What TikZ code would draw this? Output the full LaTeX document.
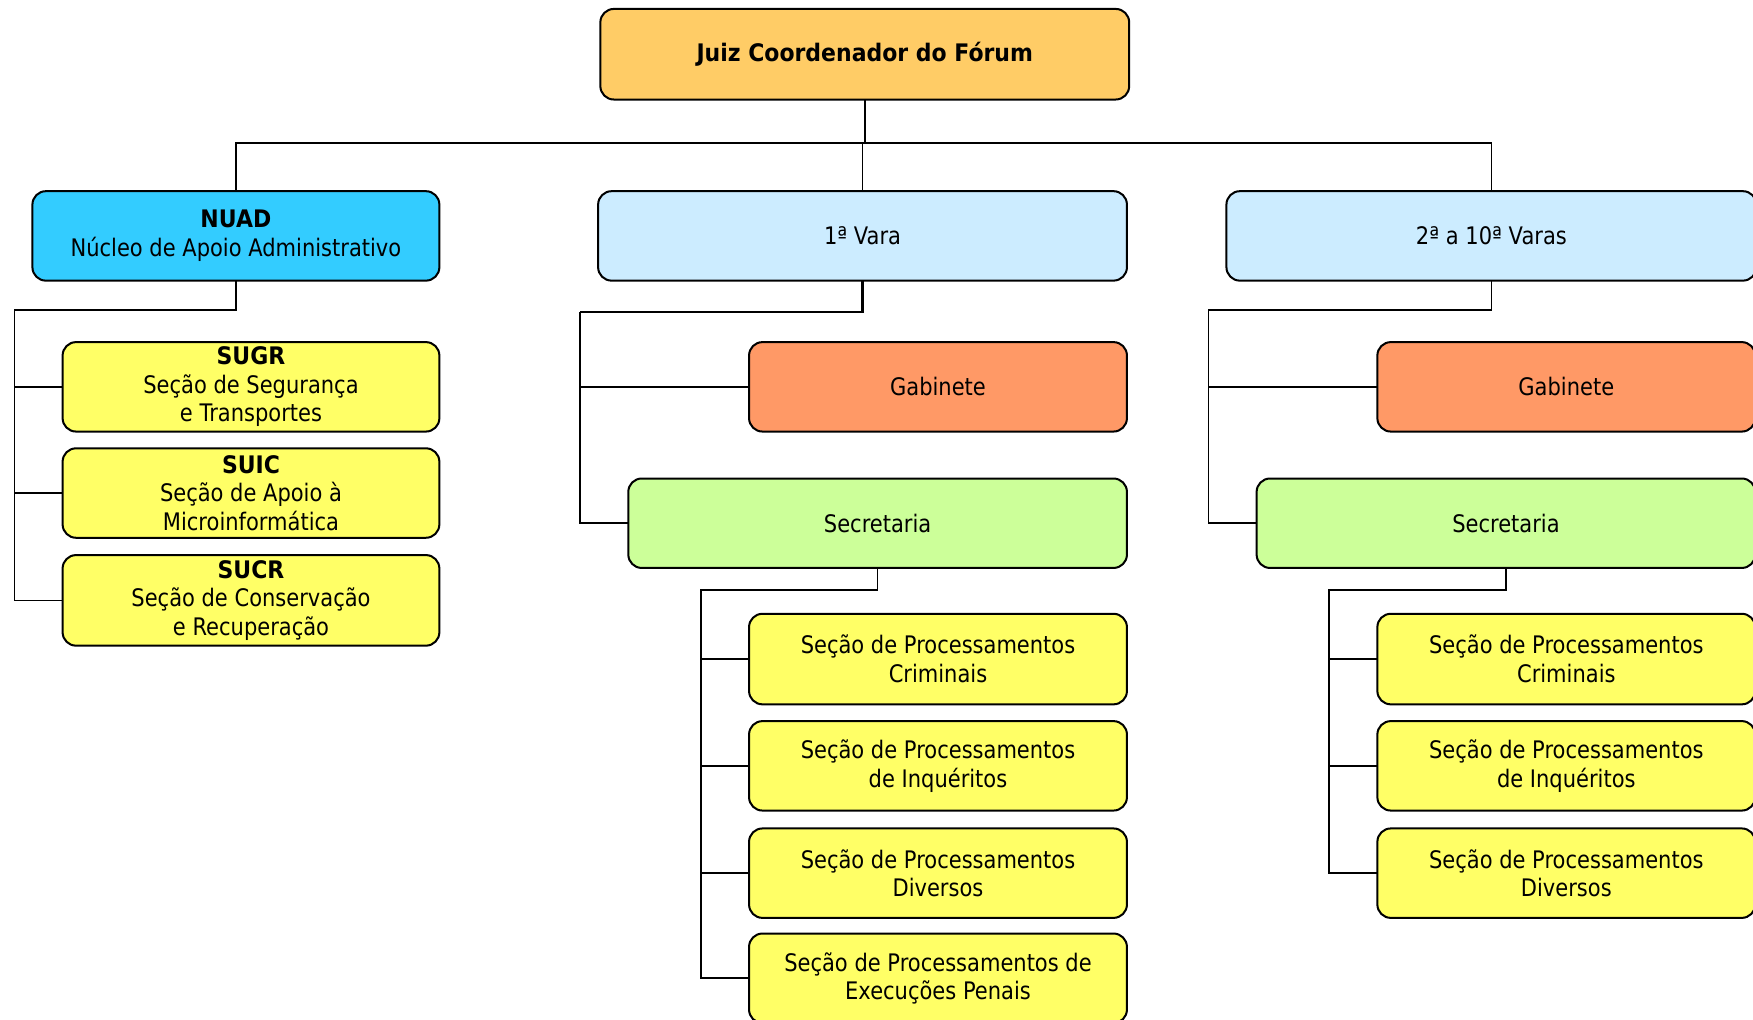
\documentclass[tikz,border=0pt]{standalone}
\usepackage{fontspec}
\setmainfont{DejaVu Sans}[FakeStretch=0.87, BoldFeatures={FakeStretch=0.91}]
\definecolor{cTop}{HTML}{FFCC66}
\definecolor{cNuad}{HTML}{33CCFF}
\definecolor{cVara}{HTML}{CCECFF}
\definecolor{cGab}{HTML}{FF9966}
\definecolor{cSec}{HTML}{CCFF99}
\definecolor{cYel}{HTML}{FFFF66}
\tikzset{
  box/.style={draw=black, line width=0.9pt, rounded corners=6pt, align=center,
    inner sep=0pt, outer sep=0pt, font=\fontsize{10.8pt}{12.8pt}\selectfont},
  conn/.style={draw=black, line width=0.75pt},
  bigconn/.style={draw=black, line width=1.1pt},
}
\begin{document}
\begin{tikzpicture}[x=0.5pt, y=-0.5pt]
\useasboundingbox (0,0) rectangle (1568,912);
\clip (0,0) rectangle (1568,912);
% top
\node[box, fill=cTop, minimum width=236.5pt, minimum height=40.5pt] (top) at (773.5,48.5) {\textbf{Juiz Coordenador do Fórum}};
% level 1
\node[box, fill=cNuad, minimum width=182pt, minimum height=40pt] (nuad) at (211,211) {\textbf{NUAD}\\Núcleo de Apoio Administrativo};
\node[box, fill=cVara, minimum width=236.5pt, minimum height=40pt] (vara1) at (771.5,211) {1ª Vara};
\node[box, fill=cVara, minimum width=237pt, minimum height=40pt] (varas) at (1334,211) {2ª a 10ª Varas};
% NUAD children
\node[box, fill=cYel, minimum width=168.5pt, minimum height=40pt] (sugr) at (224.5,346) {\textbf{SUGR}\\Seção de Segurança\\e Transportes};
\node[box, fill=cYel, minimum width=168.5pt, minimum height=40pt] (suic) at (224.5,441) {\textbf{SUIC}\\Seção de Apoio à\\Microinformática};
\node[box, fill=cYel, minimum width=168.5pt, minimum height=40.5pt] (sucr) at (224.5,537) {\textbf{SUCR}\\Seção de Conservação\\e Recuperação};
% 1a Vara children
\node[box, fill=cGab, minimum width=169pt, minimum height=40pt] (gab1) at (839,346) {Gabinete};
\node[box, fill=cSec, minimum width=223pt, minimum height=40pt] (sec1) at (785,468) {Secretaria};
\node[box, fill=cYel, minimum width=169pt, minimum height=40.5pt] (pa1) at (839,589.5) {Seção de Processamentos\\Criminais};
\node[box, fill=cYel, minimum width=169pt, minimum height=40pt] (pb1) at (839,685) {Seção de Processamentos\\de Inquéritos};
\node[box, fill=cYel, minimum width=169pt, minimum height=40pt] (pc1) at (839,781) {Seção de Processamentos\\Diversos};
\node[box, fill=cYel, minimum width=169pt, minimum height=40pt] (pd1) at (839,875) {Seção de Processamentos de\\Execuções Penais};
% 2a a 10a Varas children
\node[box, fill=cGab, minimum width=169pt, minimum height=40pt] (gab2) at (1401,346) {Gabinete};
\node[box, fill=cSec, minimum width=223pt, minimum height=40pt] (sec2) at (1347,468) {Secretaria};
\node[box, fill=cYel, minimum width=169pt, minimum height=40.5pt] (pa2) at (1401,589.5) {Seção de Processamentos\\Criminais};
\node[box, fill=cYel, minimum width=169pt, minimum height=40pt] (pb2) at (1401,685) {Seção de Processamentos\\de Inquéritos};
\node[box, fill=cYel, minimum width=169pt, minimum height=40pt] (pc2) at (1401,781) {Seção de Processamentos\\Diversos};
% bus coordinates
\coordinate (b0) at (0,128);
\coordinate (nb) at (13,277);
\coordinate (v1b) at (519,279);
\coordinate (s1b) at (627,528);
\coordinate (v2b) at (1081,277);
\coordinate (s2b) at (1189,528);
% top connectors
\draw[conn] (top.south) -- (top.south |- b0);
\draw[conn] (nuad.north) |- (varas.north |- b0) -- (varas.north);
\draw[conn] (vara1.north) -- (vara1.north |- b0);
% NUAD
\draw[conn] (nuad.south) |- (nb) |- (sucr.west);
\draw[conn] (nb |- sugr.west) -- (sugr.west);
\draw[conn] (nb |- suic.west) -- (suic.west);
% 1a Vara
\draw[bigconn] (vara1.south) |- (v1b);
\draw[conn] (v1b) |- (sec1.west);
\draw[conn] (v1b |- gab1.west) -- (gab1.west);
\draw[conn] (sec1.south) |- (s1b) |- (pd1.west);
\draw[conn] (s1b |- pa1.west) -- (pa1.west);
\draw[conn] (s1b |- pb1.west) -- (pb1.west);
\draw[conn] (s1b |- pc1.west) -- (pc1.west);
% 2a a 10a Varas
\draw[conn] (varas.south) |- (v2b) |- (sec2.west);
\draw[conn] (v2b |- gab2.west) -- (gab2.west);
\draw[conn] (sec2.south) |- (s2b) |- (pc2.west);
\draw[conn] (s2b |- pa2.west) -- (pa2.west);
\draw[conn] (s2b |- pb2.west) -- (pb2.west);
\end{tikzpicture}
\end{document}
